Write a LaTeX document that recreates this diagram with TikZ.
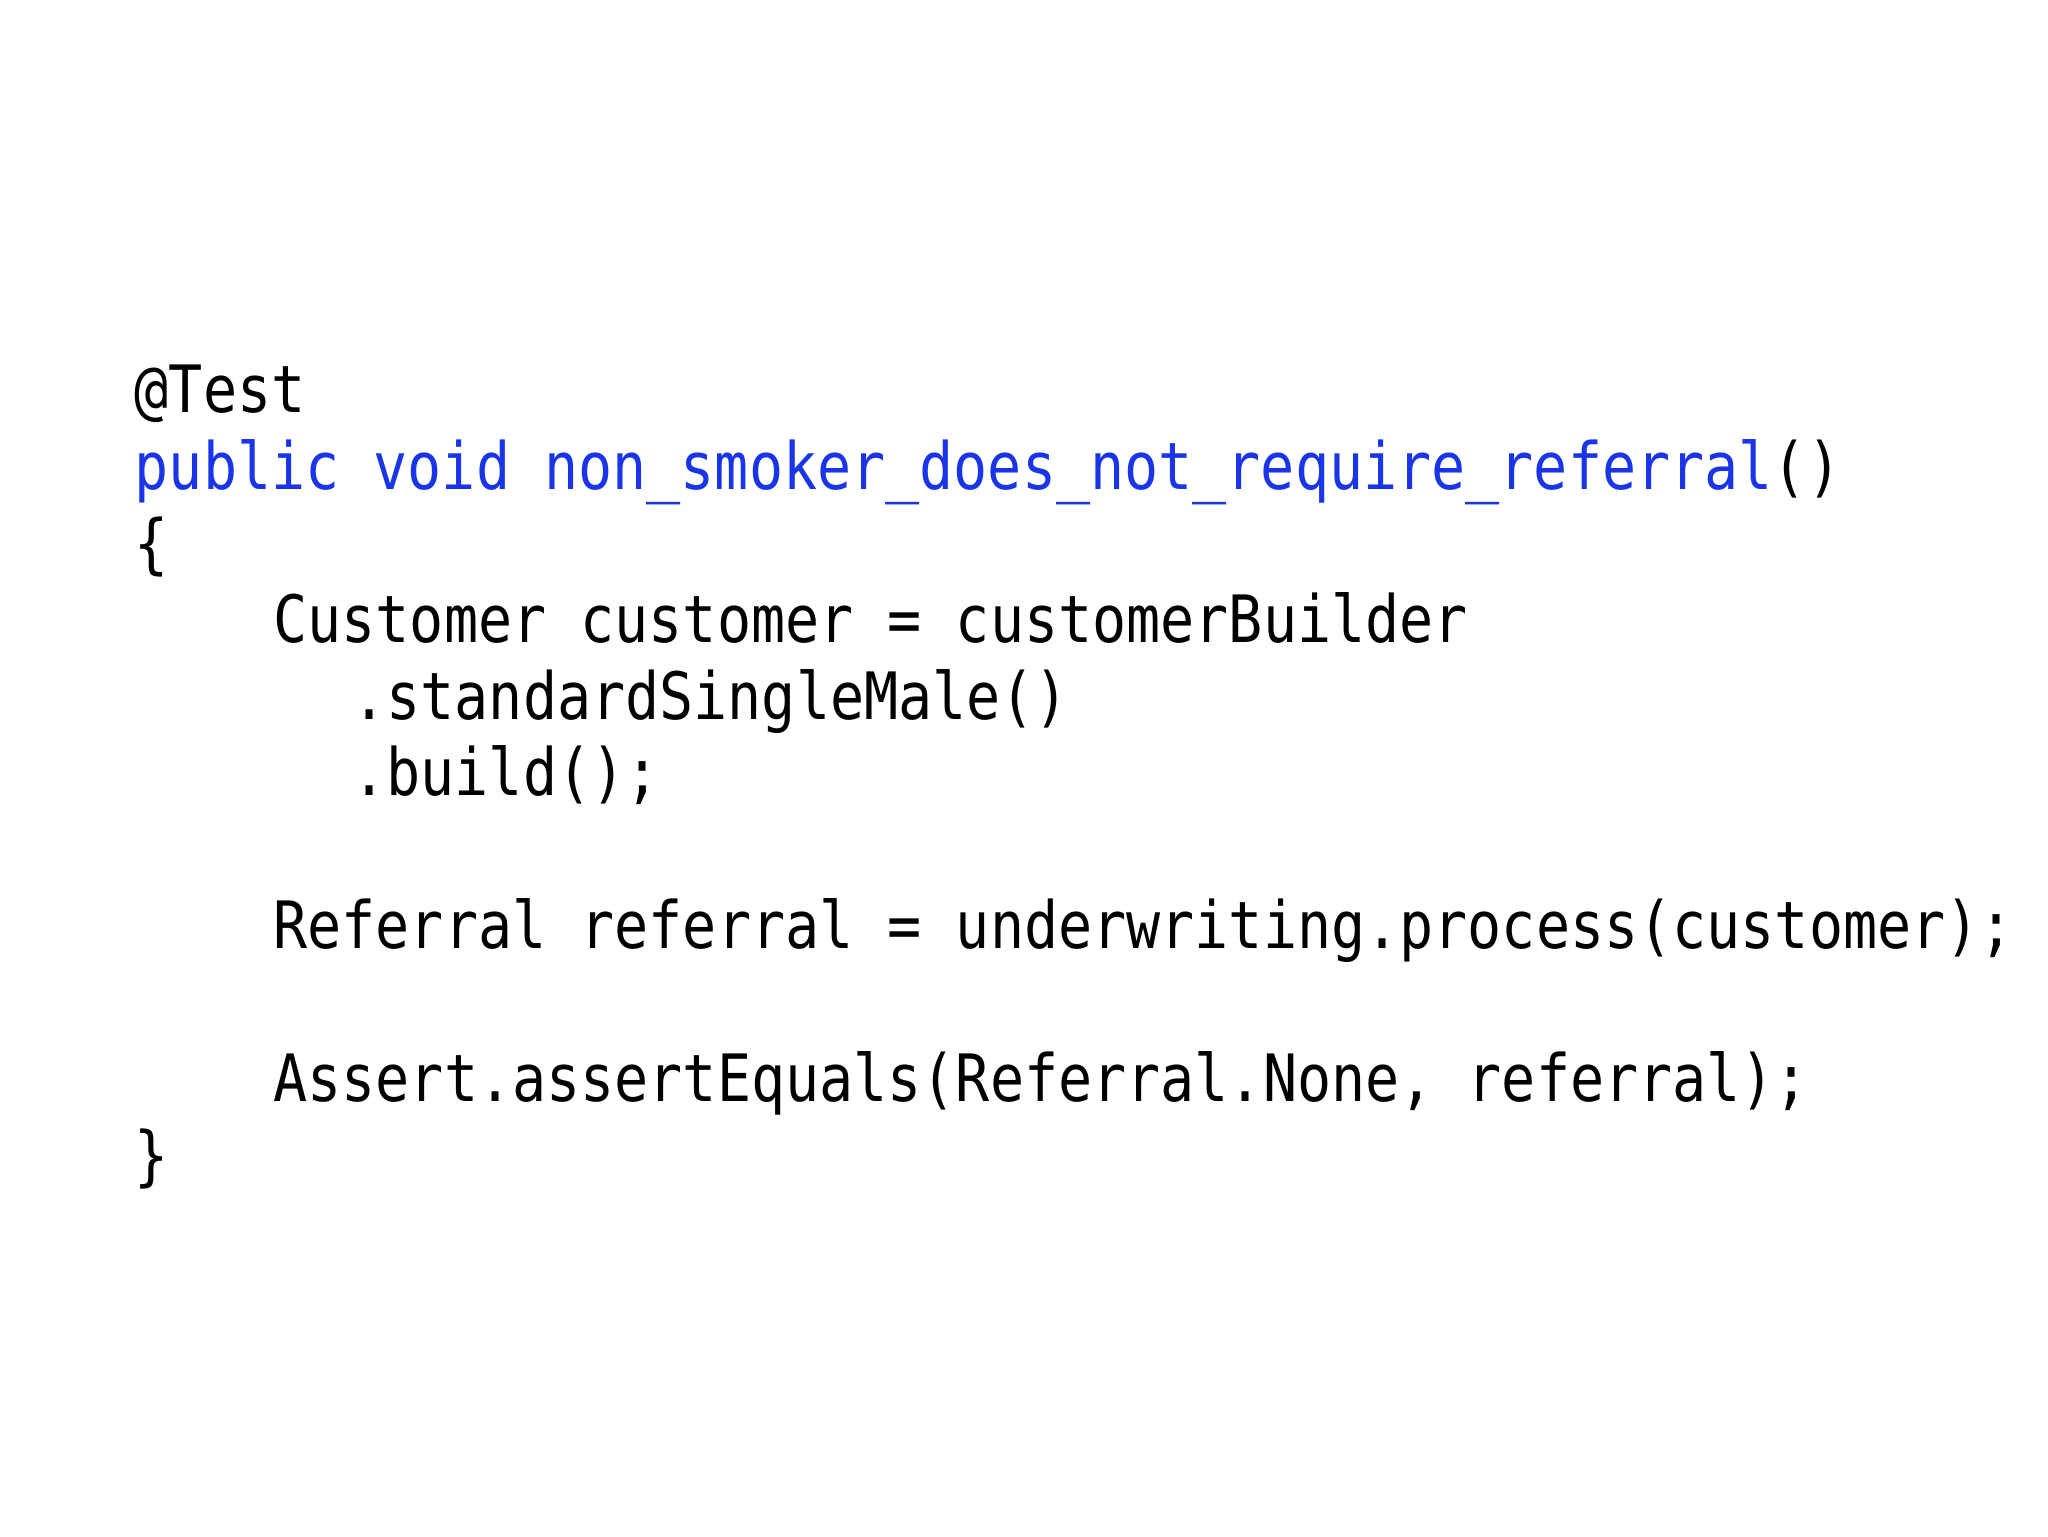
\documentclass[tikz,border=0pt]{standalone}
\usepackage{fontspec}
\newfontfamily\codefont[FakeStretch=0.868]{DejaVu Sans Mono}
\definecolor{kw}{HTML}{1A35E8}
\begin{document}
\begin{tikzpicture}[x=1pt,y=1pt,
  code/.style={anchor=base west,inner sep=0pt,font=\codefont\fontsize{50}{50}\selectfont,text=black}]
\useasboundingbox (0,0) rectangle (1568,1176);
\def\cw{26.04}
\node[code] (l1) at (103,1176-316) {@Test};
\node[code] (l2) at (103,1176-375) {\textcolor{kw}{public void non\_smoker\_does\_not\_require\_referral}()};
\node[code] (l3) at (103,1176-434) {\{};
\node[code] (l4) at (105+4*\cw,1176-492) {Customer customer = customerBuilder};
\node[code] (l5) at (103+6.4*\cw,1176-551) {.standardSingleMale()};
\node[code] (l6) at (103+6.4*\cw,1176-609) {.build();};
\node[code] (l7) at (105+4*\cw,1176-726) {Referral referral = underwriting.process(customer);};
\node[code] (l8) at (105+4*\cw,1176-843) {Assert.assertEquals(Referral.None, referral);};
\node[code] (l9) at (103,1176-902) {\}};
\end{tikzpicture}
\end{document}
